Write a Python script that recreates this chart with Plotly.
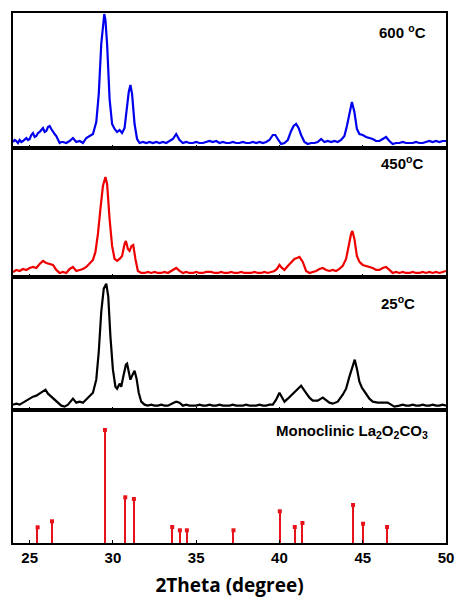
import plotly.graph_objects as go
from plotly.subplots import make_subplots

# ---------------- data ----------------
x600 = [24.0, 24.1, 24.2, 24.3, 24.4, 24.5, 24.6, 24.7, 24.8, 24.9, 25.0, 25.1, 25.2, 25.3, 25.4, 25.5,
        25.6, 25.7, 25.8, 25.9, 26.0, 26.1, 26.2, 26.3, 26.4, 26.5, 26.6, 26.7, 26.8, 26.9,
        27.0, 27.2, 27.4, 27.6, 27.8, 28.0, 28.2, 28.4, 28.6, 28.8, 29.0, 29.15, 29.3, 29.4, 29.48,
        29.55, 29.65, 29.8, 29.95, 30.1, 30.25, 30.4, 30.55, 30.7, 30.85, 30.95, 31.05, 31.15, 31.3,
        31.45, 31.6, 31.8, 32.0, 32.2, 32.4, 32.6, 32.8, 33.0, 33.2, 33.4, 33.6, 33.8, 34.0, 34.2,
        34.4, 34.6, 34.8, 35.0, 35.2, 35.4, 35.6, 35.8, 36.0, 36.2, 36.4, 36.6, 36.8, 37.0, 37.2,
        37.4, 37.6, 37.8, 38.0, 38.2, 38.4, 38.6, 38.8, 39.0, 39.2, 39.4, 39.6, 39.75, 39.9, 40.1,
        40.3, 40.5, 40.7, 40.85, 41.0, 41.15, 41.3, 41.5, 41.7, 41.9, 42.1, 42.3, 42.5, 42.7, 42.9,
        43.1, 43.3, 43.5, 43.7, 43.9, 44.05, 44.2, 44.35, 44.5, 44.65, 44.8, 45.0, 45.2, 45.4, 45.6,
        45.8, 46.0, 46.2, 46.4, 46.6, 46.8, 47.0, 47.2, 47.4, 47.6, 47.8, 48.0, 48.2, 48.4, 48.6,
        48.8, 49.0, 49.2, 49.4, 49.6, 49.8, 50.0]
y600 = [2, 4, 3, 1, 4, 2, 3, 5, 6, 4, 5, 9, 11, 7, 8, 11,
        12, 14, 16, 12, 13, 17, 18, 15, 12, 10, 8, 4, 1, 2,
        2, 1, 3, 6, 2, 3, 1, 6, 8, 10, 22, 50, 100, 122, 130,
        124, 100, 45, 20, 15, 12, 14, 11, 16, 38, 52, 59, 50, 20,
        5, 1, 2, 1, 2, 1, 2, 1, 2, 1, 3, 5, 10, 4, 1,
        2, 1, 1, 2, 1, 1, 2, 3, 2, 3, 1, 2, 1, 1, 2,
        1, 1, 2, 1, 1, 2, 1, 2, 1, 2, 4, 9, 9, 5, 0,
        1, 4, 13, 18, 20, 16, 9, 2, 0, 1, 1, 2, 5, 2, 3,
        2, 3, 2, 4, 8, 18, 32, 42, 32, 15, 10, 9, 7, 6, 5,
        3, 3, 5, 7, 3, 0, 1, 1, 2, 1, 1, 1, 2, 1, 1,
        2, 3, 2, 3, 2, 3, 3]

x450 = [24.0, 24.2, 24.4, 24.6, 24.8, 25.0, 25.2, 25.4, 25.6, 25.8, 26.0, 26.2, 26.4, 26.6, 26.8,
        27.0, 27.2, 27.4, 27.6, 27.8, 28.0, 28.2, 28.4, 28.6, 28.8, 28.95, 29.1, 29.25, 29.4, 29.55,
        29.65, 29.8, 29.95, 30.1, 30.25, 30.4, 30.55, 30.7, 30.78, 30.9, 31.0, 31.12, 31.22, 31.35,
        31.5, 31.7, 31.9, 32.1, 32.3, 32.5, 32.7, 32.9, 33.1, 33.3, 33.5, 33.65, 33.8, 34.0, 34.2,
        34.4, 34.6, 34.8, 35.0, 35.2, 35.4, 35.6, 35.9, 36.1, 36.3, 36.5, 36.7, 36.9, 37.1, 37.3,
        37.5, 37.7, 37.9, 38.1, 38.3, 38.5, 38.7, 38.9, 39.1, 39.3, 39.5, 39.7, 39.85, 40.0, 40.15,
        40.3, 40.5, 40.7, 40.9, 41.05, 41.2, 41.4, 41.6, 41.8, 42.0, 42.2, 42.4, 42.6, 42.8, 43.0,
        43.2, 43.4, 43.6, 43.8, 44.0, 44.15, 44.3, 44.38, 44.5, 44.65, 44.8, 45.0, 45.2, 45.4, 45.6,
        45.8, 46.0, 46.2, 46.4, 46.6, 46.8, 47.0, 47.2, 47.4, 47.6, 47.8, 48.0, 48.2, 48.4, 48.6,
        48.8, 49.0, 49.2, 49.4, 49.6, 49.8, 50.0]
y450 = [2, 4, 3, 5, 4, 6, 7, 6, 10, 13, 11, 10, 9, 4, 1,
        2, 1, 5, 7, 3, 4, 5, 7, 10, 14, 22, 40, 65, 88, 97,
        90, 55, 28, 15, 13, 15, 18, 30, 33, 25, 23, 28, 29, 15,
        3, 1, 1, 2, 1, 2, 1, 1, 2, 1, 3, 5, 6, 3, 1,
        2, 1, 1, 2, 1, 1, 2, 2, 1, 1, 2, 1, 1, 2, 1,
        1, 2, 1, 1, 1, 2, 1, 1, 2, 1, 2, 3, 5, 9, 6,
        4, 8, 12, 15, 16, 17, 12, 3, 1, 2, 3, 5, 6, 4, 3,
        4, 3, 5, 8, 15, 28, 40, 43, 35, 18, 12, 9, 8, 7, 6,
        4, 4, 6, 7, 4, 1, 2, 1, 2, 1, 1, 2, 1, 1, 2,
        1, 2, 1, 2, 1, 2, 3]

x25 = [24.0, 24.2, 24.4, 24.6, 24.8, 25.0, 25.2, 25.4, 25.6, 25.8, 25.95, 26.1, 26.3, 26.5, 26.7,
       26.9, 27.1, 27.3, 27.5, 27.6, 27.8, 28.0, 28.2, 28.4, 28.6, 28.8, 29.0, 29.15, 29.3, 29.45,
       29.6, 29.72, 29.85, 30.0, 30.15, 30.25, 30.4, 30.5, 30.62, 30.78, 30.85, 30.95, 31.05, 31.18,
       31.3, 31.42, 31.55, 31.7, 31.9, 32.1, 32.3, 32.5, 32.7, 32.9, 33.1, 33.3, 33.5, 33.65, 33.8,
       34.0, 34.2, 34.4, 34.6, 34.8, 35.0, 35.2, 35.4, 35.6, 35.8, 36.0, 36.2, 36.4, 36.6, 36.8,
       37.0, 37.2, 37.4, 37.6, 37.8, 38.0, 38.2, 38.4, 38.6, 38.8, 39.0, 39.2, 39.4, 39.6, 39.8,
       40.0, 40.15, 40.3, 40.5, 40.8, 41.0, 41.3, 41.5, 41.8, 42.0, 42.3, 42.6, 42.8, 43.0, 43.2,
       43.5, 43.8, 44.0, 44.2, 44.4, 44.52, 44.65, 44.8, 44.95, 45.2, 45.4, 45.6, 45.9, 46.2, 46.5,
       46.7, 46.9, 47.2, 47.4, 47.6, 47.8, 48.0, 48.2, 48.4, 48.6, 48.8, 49.0, 49.2, 49.4, 49.6,
       49.8, 50.0]
y25 = [2, 3, 2, 4, 6, 8, 10, 11, 13, 15, 17, 13, 10, 6, 3,
       1, 0, 2, 6, 8, 4, 5, 4, 7, 10, 14, 27, 55, 95, 118,
       123, 110, 70, 37, 20, 18, 23, 20, 30, 42, 43, 33, 27, 32,
       36, 28, 14, 5, 2, 1, 2, 1, 1, 2, 1, 1, 3, 4, 5,
       4, 1, 2, 1, 1, 1, 2, 1, 1, 2, 1, 1, 2, 1, 1,
       1, 2, 1, 1, 1, 2, 1, 1, 1, 2, 1, 1, 2, 2, 7,
       14, 10, 5, 8, 13, 16, 21, 16, 9, 6, 6, 9, 6, 4, 3,
       5, 12, 18, 30, 42, 47, 38, 25, 19, 13, 8, 5, 4, 4, 4,
       2, 0, 1, 2, 1, 1, 2, 1, 1, 2, 1, 1, 2, 1, 1,
       2, 1]

ref_pos = [25.48, 26.34, 29.52, 30.74, 31.26, 33.56, 34.02, 34.44, 37.24, 40.02, 40.92, 41.38, 44.42, 45.02, 46.46]
ref_int = [15.7, 21.7, 113, 45.7, 44, 16, 12.7, 12.7, 12.7, 31.7, 16, 20, 38, 19.3, 16]

tick_vals = [25, 30, 35, 40, 45, 50]
panel_labels = ["600 <sup>o</sup>C", "450<sup>o</sup>C", "25<sup>o</sup>C",
                "Monoclinic La<sub>2</sub>O<sub>2</sub>CO<sub>3</sub>"]

# ---------------- figure ----------------
fig = make_subplots(rows=4, cols=1, shared_xaxes=True, vertical_spacing=0)

fig.add_trace(go.Scatter(x=x600, y=y600, mode="lines", line=dict(color="#0000ee", width=2.2)), row=1, col=1)
fig.add_trace(go.Scatter(x=x450, y=y450, mode="lines", line=dict(color="#ee0000", width=2.2)), row=2, col=1)
fig.add_trace(go.Scatter(x=x25, y=y25, mode="lines", line=dict(color="#000000", width=2.2)), row=3, col=1)
fig.add_trace(go.Bar(x=ref_pos, y=ref_int, width=0.09, marker=dict(color="#e8121b", line=dict(width=0))), row=4, col=1)
fig.add_trace(go.Scatter(x=ref_pos, y=ref_int, mode="markers",
                         marker=dict(color="#e8121b", size=4, symbol="square")), row=4, col=1)

domains = {1: [0.7453, 1.0], 2: [0.502, 0.7453], 3: [0.251, 0.502], 4: [0.0, 0.251]}
yranges = {1: [-4, 131], 2: [-3, 126], 3: [-3.3, 129.7], 4: [0, 133]}

for r in range(1, 5):
    fig.update_yaxes(domain=domains[r], range=yranges[r], showticklabels=False, ticks="",
                     showgrid=False, zeroline=False, showline=True, mirror=True, automargin=False,
                     linecolor="black", linewidth=2, row=r, col=1)
    fig.update_xaxes(range=[24, 50], tickvals=tick_vals, ticks="inside", ticklen=3,
                     tickcolor="black", showgrid=False, zeroline=False, showline=True, automargin=False,
                     mirror=True, linecolor="black", linewidth=2, row=r, col=1)

fig.update_xaxes(showticklabels=True,
                 tickfont=dict(family="Liberation Sans", size=15, color="black", weight="bold"),
                 title=dict(text="2Theta (degree)", standoff=22,
                            font=dict(family="Open Sans", size=19, color="black", weight="bold")),
                 row=4, col=1)

label_pos = [(1, 0.958, 0.86), (2, 0.951, 0.884), (3, 0.933, 0.81), (4, 0.963, 0.835)]
for (r, xx, yy), txt in zip(label_pos, panel_labels):
    axn = "" if r == 1 else str(r)
    fig.add_annotation(text="<b>" + txt + "</b>", xref="x" + axn + " domain", yref="y" + axn + " domain",
                       x=xx, y=yy, xanchor="right", yanchor="middle", showarrow=False,
                       font=dict(family="Liberation Sans", size=15, color="black"))

fig.update_layout(width=457, height=598, showlegend=False,
                  margin=dict(l=13, r=11, t=13, b=55, autoexpand=False),
                  plot_bgcolor="white", paper_bgcolor="white", bargap=0)

# remove the browser's default page margin so the figure fills the window exactly
fig.write_html("out.html", config={"displayModeBar": False},
               post_script="document.body.style.margin='0';document.body.style.overflow='hidden';")
